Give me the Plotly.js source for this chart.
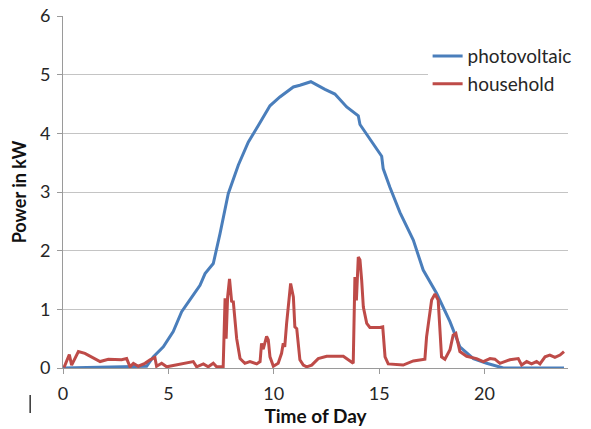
<!DOCTYPE html>
<html>
<head>
<meta charset="utf-8">
<script src="https://cdn.plot.ly/plotly-3.0.1.min.js"></script>
<style>html,body{margin:0;padding:0;background:#fff;}#chart{width:591px;height:429px;}</style>
</head>
<body>
<div id="chart"></div>
<script>
// Time of day (hours) and power (kW)
const pvHours = [0, 3.0, 3.97, 4.28, 4.76, 5.23, 5.63, 6.02, 6.5, 6.74, 7.13, 7.45, 7.84, 8.32, 8.79, 9.26, 9.82, 10.29, 10.93, 11.24, 11.76, 12.43, 12.9, 13.46, 14.01, 14.09, 14.64, 15.12, 15.19, 15.51, 15.99, 16.62, 17.09, 17.73, 18.36, 18.83, 19.47, 20.1, 20.89, 23.77];
const pvPower = [0, 0.02, 0.03, 0.19, 0.36, 0.62, 0.96, 1.16, 1.41, 1.61, 1.78, 2.29, 2.97, 3.46, 3.85, 4.13, 4.47, 4.62, 4.79, 4.82, 4.88, 4.75, 4.67, 4.45, 4.3, 4.15, 3.85, 3.61, 3.4, 3.08, 2.65, 2.18, 1.67, 1.27, 0.79, 0.36, 0.16, 0.08, 0, 0];

const hhHours = [0.05, 0.3, 0.41, 0.73, 1.04, 1.76, 2.15, 2.47, 2.78, 3.02, 3.18, 3.34, 3.57, 3.89, 4.13, 4.36, 4.44, 4.68, 4.92, 6.18, 6.34, 6.66, 6.89, 7.13, 7.29, 7.6, 7.69, 7.74, 7.81, 7.9, 8.0, 8.08, 8.24, 8.4, 8.63, 8.87, 9.19, 9.35, 9.42, 9.5, 9.66, 9.74, 9.82, 9.98, 10.21, 10.37, 10.45, 10.52, 10.61, 10.8, 10.93, 11.0, 11.09, 11.24, 11.4, 11.56, 11.8, 12.11, 12.51, 13.3, 13.53, 13.77, 13.85, 13.92, 14.01, 14.09, 14.17, 14.25, 14.41, 14.56, 15.04, 15.17, 15.28, 15.43, 16.14, 16.62, 17.17, 17.25, 17.49, 17.65, 17.8, 17.96, 18.12, 18.36, 18.51, 18.64, 18.83, 19.15, 19.62, 19.94, 20.26, 20.49, 20.73, 21.2, 21.6, 21.76, 22.0, 22.23, 22.47, 22.63, 22.87, 23.1, 23.34, 23.58, 23.77];
const hhPower = [0.01, 0.23, 0.05, 0.28, 0.25, 0.11, 0.15, 0.14, 0.14, 0.16, 0.02, 0.08, 0.03, 0.08, 0.14, 0.18, 0.03, 0.08, 0.02, 0.11, 0.02, 0.07, 0.02, 0.08, 0.02, 0.02, 1.19, 0.5, 1.21, 1.52, 1.14, 1.13, 0.5, 0.16, 0.08, 0.11, 0.07, 0.11, 0.42, 0.32, 0.54, 0.48, 0.19, 0.03, 0.08, 0.25, 0.42, 0.36, 0.76, 1.44, 1.21, 0.7, 0.67, 0.14, 0.05, 0.02, 0.05, 0.16, 0.2, 0.2, 0.14, 0.08, 1.55, 1.15, 1.89, 1.84, 1.5, 1.04, 0.76, 0.69, 0.69, 0.7, 0.19, 0.07, 0.05, 0.12, 0.15, 0.53, 1.16, 1.26, 1.16, 0.19, 0.15, 0.31, 0.56, 0.59, 0.28, 0.2, 0.16, 0.11, 0.16, 0.15, 0.08, 0.14, 0.16, 0.05, 0.11, 0.07, 0.11, 0.07, 0.19, 0.22, 0.18, 0.22, 0.28];

const xTicks = [0, 5, 10, 15, 20];
const yTicks = [0, 1, 2, 3, 4, 5, 6];

const font = 'Lato, "Open Sans", sans-serif';

const traces = [
  {x: pvHours, y: pvPower, name: 'photovoltaic', type: 'scatter', mode: 'lines',
   line: {color: '#4A7EBB', width: 3}},
  {x: hhHours, y: hhPower, name: 'household', type: 'scatter', mode: 'lines',
   line: {color: '#BE4B48', width: 3}}
];

const layout = {
  width: 591, height: 429,
  margin: {l: 63, r: 23, t: 16, b: 61},
  paper_bgcolor: '#fff', plot_bgcolor: '#fff',
  font: {family: font, size: 18, color: '#262626'},
  showlegend: true,
  legend: {x: 0.722, y: 0.94, xanchor: 'left', yanchor: 'top', bgcolor: '#fff',
           tracegroupgap: 0, borderwidth: 0,
           font: {family: font, size: 19, color: '#262626'}},
  xaxis: {
    range: [0, 23.96], tickvals: xTicks, ticktext: xTicks.map(String),
    showgrid: false, zeroline: false,
    showline: true, linecolor: '#9a9a9a', linewidth: 1,
    ticks: 'outside', ticklen: 5, tickcolor: '#9a9a9a',
    ticklabelstandoff: 4,
    tickfont: {family: font, size: 18, color: '#262626'},
    title: {text: '<b>Time of Day</b>', font: {family: font, size: 19, color: '#111'}, standoff: 4}
  },
  yaxis: {
    range: [0, 6], tickvals: yTicks,
    showgrid: true, gridcolor: '#c4c4c4', gridwidth: 1,
    zeroline: false,
    showline: true, linecolor: '#9a9a9a', linewidth: 1,
    ticks: 'outside', ticklen: 5, tickcolor: '#9a9a9a',
    ticklabelstandoff: 3,
    tickfont: {family: font, size: 18, color: '#262626'},
    title: {text: '<b>Power in kW</b>', font: {family: font, size: 18, color: '#111'}, standoff: 8}
  },
  shapes: [
    {type: 'line', xref: 'paper', yref: 'paper', x0: -0.065, x1: -0.065, y0: -0.077, y1: -0.128,
     line: {color: '#333', width: 1.5}}
  ]
};

Plotly.newPlot('chart', traces, layout, {displayModeBar: false, staticPlot: true});
</script>
</body>
</html>
